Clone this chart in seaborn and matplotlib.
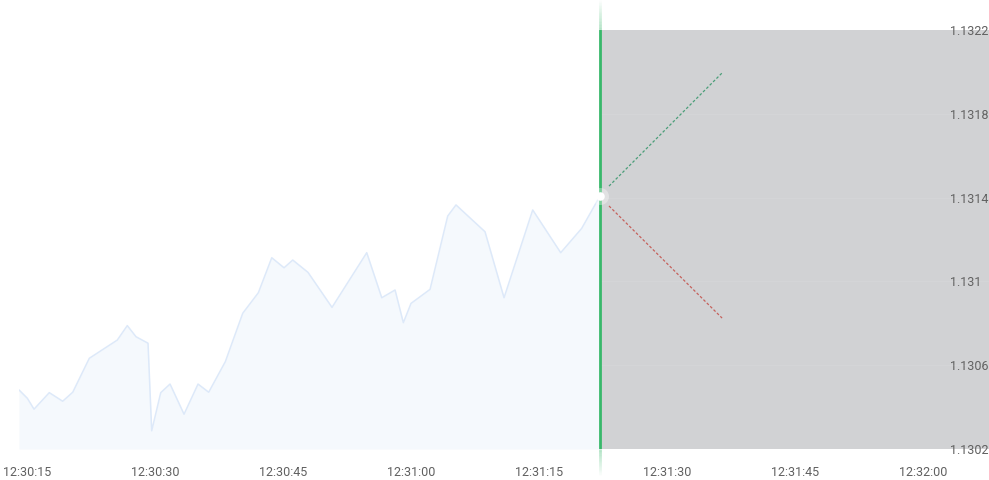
import numpy as np
import matplotlib
matplotlib.use("Agg")
import matplotlib.pyplot as plt
import matplotlib.transforms as mtransforms
import seaborn as sns

# price history, seconds after 12:30:00
times = [14.06, 15.04, 15.82, 17.61, 19.18, 20.36, 22.30, 25.58, 26.75, 27.77,
         29.18, 29.61, 30.67, 31.76, 33.40, 35.04, 36.29, 38.24, 40.28, 42.11,
         43.68, 45.12, 46.14, 47.93, 50.74, 54.81, 56.57, 58.13, 59.10, 60.00,
         62.23, 64.30, 65.27, 68.67, 70.90, 74.26, 77.54, 80.00, 82.15]
prices = [1.130482, 1.130442, 1.130390, 1.130469, 1.130428, 1.130471, 1.130633,
          1.130720, 1.130789, 1.130736, 1.130705, 1.130287, 1.130469, 1.130510,
          1.130366, 1.130510, 1.130471, 1.130617, 1.130848, 1.130946, 1.131113,
          1.131065, 1.131102, 1.131043, 1.130876, 1.131137, 1.130922, 1.130959,
          1.130803, 1.130895, 1.130962, 1.131312, 1.131365, 1.131237, 1.130922,
          1.131341, 1.131137, 1.131253, 1.131408]

# projection lines (start, end)
up_times = [83.2, 96.45]
up_prices = [1.131455, 1.131995]
down_times = [83.2, 96.45]
down_prices = [1.131360, 1.130825]

x_ticks = [15, 30, 45, 60, 75, 90, 105, 120]
x_labels = ["12:30:15", "12:30:30", "12:30:45", "12:31:00",
            "12:31:15", "12:31:30", "12:31:45", "12:32:00"]
y_ticks = [1.1302, 1.1306, 1.131, 1.1314, 1.1318, 1.1322]
y_labels = ["1.1302", "1.1306", "1.131", "1.1314", "1.1318", "1.1322"]

sns.set_style("white")
plt.rcParams["font.family"] = ["Roboto", "DejaVu Sans"]

fig = plt.figure(figsize=(9.89, 4.8), dpi=100)
ax = fig.add_axes([19 / 989, 31 / 480, 970 / 989, 419 / 480])
ax.set_xlim(14.06, 127.73)
ax.set_ylim(1.1302, 1.1322)

t_now = times[-1]
p_now = prices[-1]

# grey future zone
ax.axvspan(t_now, 127.73, color="#d1d2d4", zorder=0, lw=0)
for yt in y_ticks[1:-1]:
    ax.plot([t_now, 127.73], [yt, yt], color="white", alpha=0.07, lw=1, zorder=1)

# area of past prices
ax.fill_between(times, prices, 1.1302, color="#f5f9fd", lw=0, zorder=1)
sns.lineplot(x=times, y=prices, ax=ax, color="#dde9f9", lw=1.1, zorder=2)

# now line, with fading ends outside the axes
ax.axvline(t_now, color="#38b86a", lw=2, zorder=3)
trans = mtransforms.blended_transform_factory(ax.transData, ax.transAxes)
n = 20
for i in range(n):
    a = 0.4 * (1 - i / n)
    y0 = 1 + i * (30 / 419) / n
    y1 = 1 + (i + 1) * (30 / 419) / n
    ax.plot([t_now, t_now], [y0, y1], color="#38b86a", alpha=a, lw=2,
            transform=trans, clip_on=False, solid_capstyle="butt")
    y0 = -i * (26 / 419) / n
    y1 = -(i + 1) * (26 / 419) / n
    ax.plot([t_now, t_now], [y0, y1], color="#38b86a", alpha=a, lw=2,
            transform=trans, clip_on=False, solid_capstyle="butt")

# projections
ax.plot(up_times, up_prices, color="#4a9e78", lw=0.9, dashes=(2.2, 1.6), zorder=4)
ax.plot(down_times, down_prices, color="#c5615c", lw=0.9, dashes=(2.2, 1.6), zorder=4)

# current point
ax.scatter([t_now], [p_now], s=150, color="white", alpha=0.35, lw=0, zorder=5)
ax.scatter([t_now], [p_now], s=38, color="white", lw=0, zorder=6)

ax.set_xticks(x_ticks)
ax.set_xticklabels(x_labels)
ax.set_yticks(y_ticks)
ax.set_yticklabels(y_labels)
ax.yaxis.tick_right()
ax.tick_params(axis="x", length=0, pad=12, labelsize=9, labelcolor="#606060")
ax.tick_params(axis="y", length=0, pad=-28, labelsize=9, labelcolor="#606060")
for lab in ax.get_yticklabels():
    lab.set_horizontalalignment("left")
for s in ax.spines.values():
    s.set_visible(False)
ax.grid(False)

fig.savefig("out.png", dpi=100)
